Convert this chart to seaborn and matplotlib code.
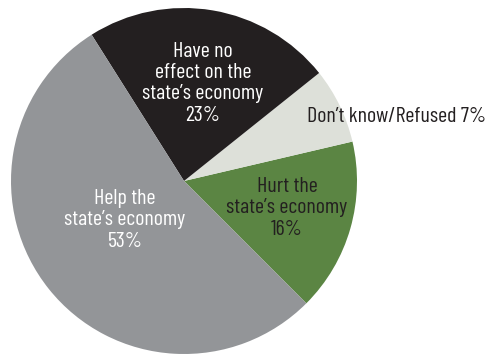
import matplotlib
matplotlib.use("Agg")
import matplotlib.pyplot as plt
import seaborn as sns

# Survey shares (percent), drawn counter-clockwise starting from "Hurt"
categories = ["Hurt the\nstate\u2019s economy", "Don\u2019t know/Refused",
              "Have no\neffect on the\nstate\u2019s economy", "Help the\nstate\u2019s economy"]
shares = [16, 7, 23, 53]
colors = ["#5b8543", "#dde0d9", "#231f20", "#939598"]
text_colors = ["#231f20", "#231f20", "#ffffff", "#ffffff"]

sns.set_theme(style="white")
plt.rcParams["font.family"] = ["Barlow Condensed", "DejaVu Sans"]

fig = plt.figure(figsize=(4.86, 3.54), dpi=100)
fig.patch.set_facecolor("white")
ax = fig.add_axes([11 / 486, 0.0, 346 / 486, 346 / 354])

wedges, _ = ax.pie(shares, colors=colors, startangle=-45, counterclock=True,
                   wedgeprops=dict(linewidth=0))
ax.set_xlim(-1, 1)
ax.set_ylim(-1, 1)
ax.set_aspect("equal")
ax.axis("off")

# label anchors in pie units (radius 1)
label_pos = [(0.595, -0.155), (0.711, 0.37), (0.11, 0.565), (-0.341, -0.225)]
for cat, val, (x, y), tc in zip(categories, shares, label_pos, text_colors):
    if cat.startswith("Don"):
        ax.text(x, y, f"{cat} {val}%", ha="left", va="center", fontsize=15.8,
                color=tc, clip_on=False)
    else:
        ax.text(x, y, f"{cat}\n{val}%", ha="center", va="center", fontsize=15.8,
                color=tc, linespacing=1.16, multialignment="center")

fig.savefig("out.png", dpi=100, facecolor="white")
